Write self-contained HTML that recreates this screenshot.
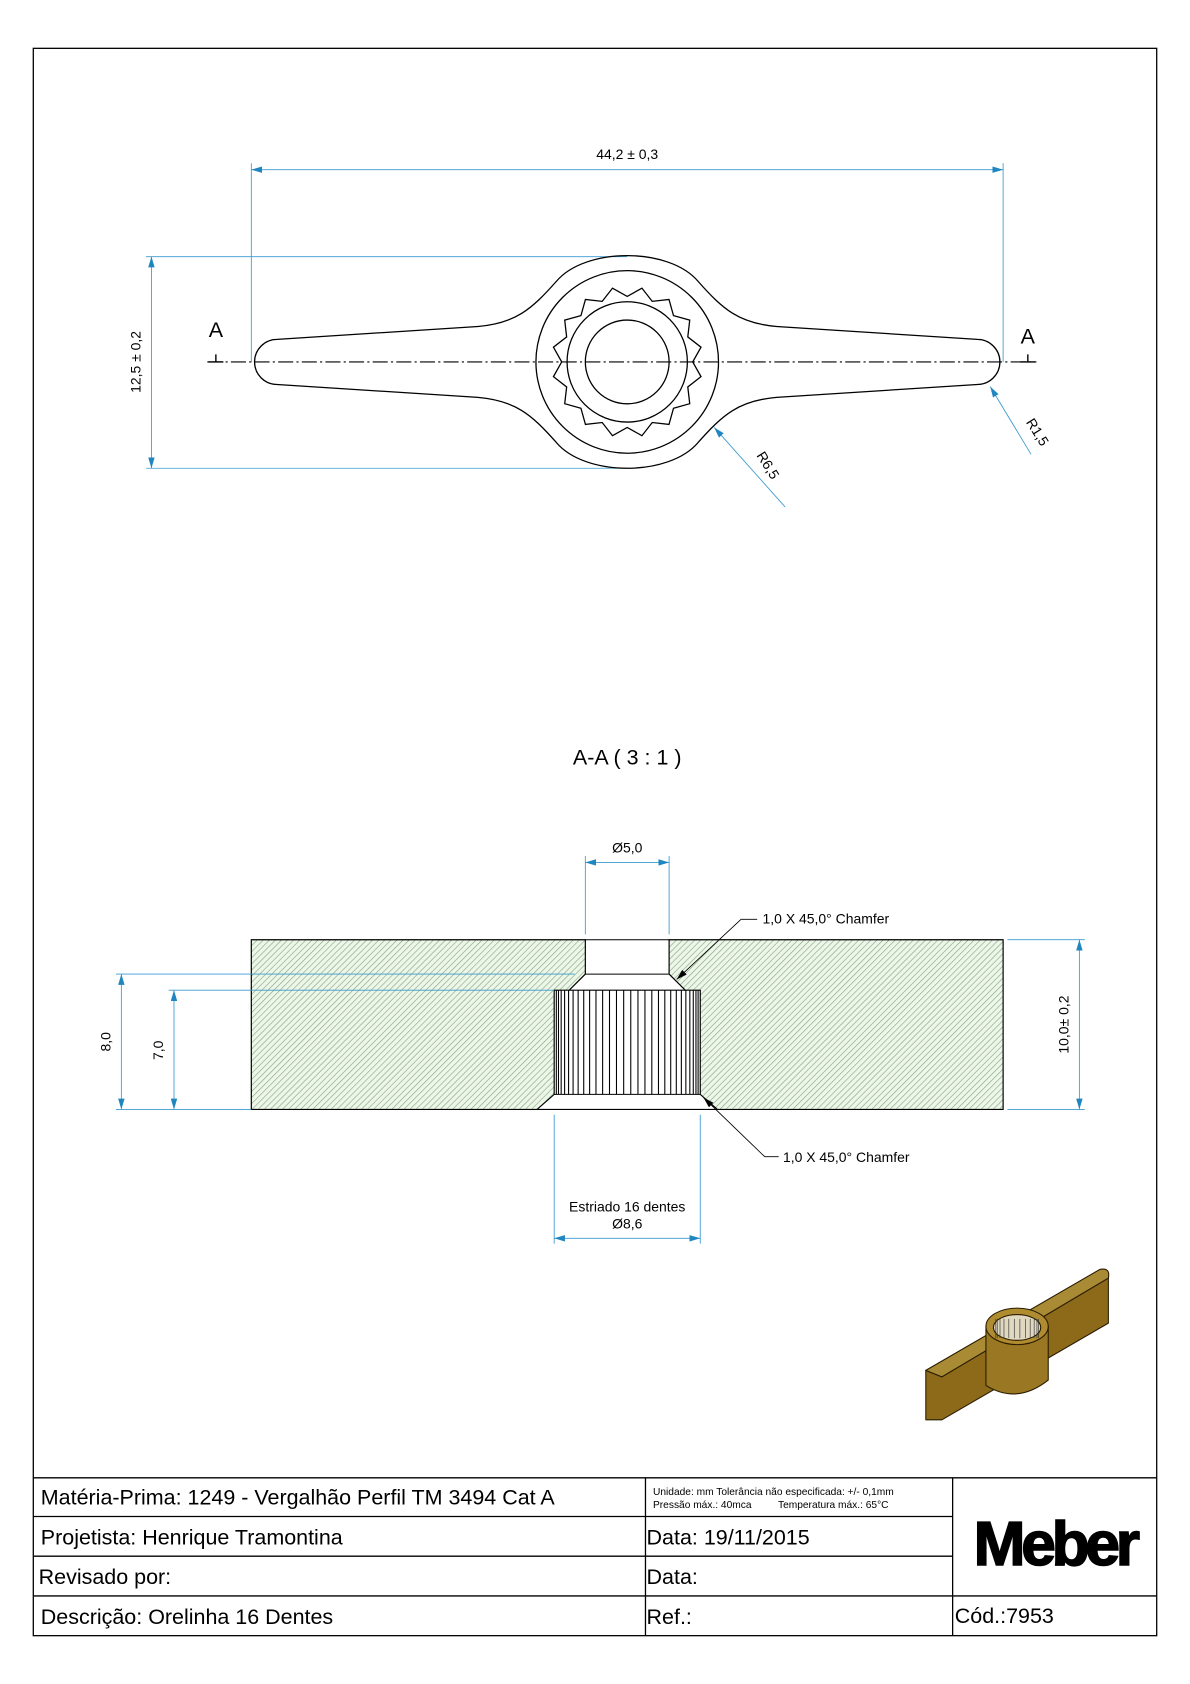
<!DOCTYPE html>
<html><head><meta charset="utf-8"><style>
html,body{margin:0;padding:0;background:#fff}
svg{display:block}
text{font-family:"Liberation Sans",sans-serif}
</style></head><body>
<svg id="s" width="1190" height="1684" viewBox="0 0 1108 1568" preserveAspectRatio="none" xmlns="http://www.w3.org/2000/svg">
<defs>
<pattern id="h" patternUnits="userSpaceOnUse" width="4" height="4" patternTransform="rotate(45)">
<rect width="4" height="4" fill="#eef5ea"/><line x1="0" y1="0" x2="0" y2="4" stroke="#7aa874" stroke-width="1.1"/>
</pattern>
<marker id="a" viewBox="0 0 10 6" refX="10" refY="3" markerWidth="10" markerHeight="6" orient="auto-start-reverse" markerUnits="userSpaceOnUse"><path d="M0,0L10,3L0,6z" fill="#1f86c0"/></marker>
<marker id="k" viewBox="0 0 10 6" refX="10" refY="3" markerWidth="10" markerHeight="6" orient="auto-start-reverse" markerUnits="userSpaceOnUse"><path d="M0,0L10,3L0,6z" fill="#000"/></marker>
</defs>
<rect x="31" y="45" width="1046" height="1478" fill="none" stroke="#000" stroke-width="1.2"/>

<g stroke="#3a9ad0" stroke-width="0.8" fill="none">
<line x1="234" y1="152" x2="234" y2="337"/><line x1="934" y1="152" x2="934" y2="337"/>
<line x1="234" y1="158" x2="934" y2="158" marker-start="url(#a)" marker-end="url(#a)"/>
<line x1="136" y1="239" x2="584" y2="239"/><line x1="136" y1="436" x2="584" y2="436"/>
<line x1="141" y1="239" x2="141" y2="436" marker-start="url(#a)" marker-end="url(#a)"/>
<line x1="731" y1="472" x2="665" y2="398" marker-end="url(#a)"/>
<line x1="960" y1="423" x2="922" y2="360" marker-end="url(#a)"/>
</g>
<text x="584" y="148" font-size="13" text-anchor="middle">44,2 ± 0,3</text>
<text transform="translate(131,337) rotate(-90)" font-size="13" text-anchor="middle">12,5 ± 0,2</text>
<text transform="translate(704,424) rotate(58)" font-size="13">R6,5</text>
<text transform="translate(955,393) rotate(58)" font-size="13">R1,5</text>

<g stroke="#000" stroke-width="1.2" fill="none">
<path d="M258,316 L445,304 C480,301 495,288 518,262 C545,230 623,230 650,262 C673,288 688,301 723,304 L910,316 A21,21 0 0 1 910,358 L723,370 C688,373 673,386 650,412 C623,444 545,444 518,412 C495,386 480,373 445,370 L258,358 A21,21 0 0 1 258,316 Z"/>
<circle cx="584" cy="337" r="85"/>
<circle cx="584" cy="337" r="56"/>
<circle cx="584" cy="337" r="39"/>
<path id="star" d=""/>
</g>
<line x1="193" y1="337" x2="965" y2="337" stroke="#000" stroke-width="1" stroke-dasharray="14,3,2,3"/>
<text x="201" y="314" font-size="20" text-anchor="middle">A</text>
<text x="957" y="320" font-size="20" text-anchor="middle">A</text>
<path d="M194,337h14M201,330v7M950,337h14M957,330v7" stroke="#000" stroke-width="1.3"/>

<text x="584" y="712" font-size="20" text-anchor="middle">A-A ( 3 : 1 )</text>

<path d="M234,875 H545 V907 L530,922 H516 V1019 L500,1033 H234 Z" fill="url(#h)" stroke="#000" stroke-width="1.1"/>
<path d="M623,875 H934 V1033 H668 L652,1019 V922 H638 L623,907 Z" fill="url(#h)" stroke="#000" stroke-width="1.1"/>
<g stroke="#000" stroke-width="1" fill="none">
<path d="M545,907H623M530,922H638M516,1019H652M500,1033H668M545,875H623"/>
<g id="vl"></g>
</g>
<g stroke="#3a9ad0" stroke-width="0.8" fill="none">
<line x1="545" y1="797" x2="545" y2="870"/><line x1="623" y1="797" x2="623" y2="870"/>
<line x1="545" y1="803" x2="623" y2="803" marker-start="url(#a)" marker-end="url(#a)"/>
<line x1="108" y1="907" x2="535" y2="907"/><line x1="157" y1="922" x2="516" y2="922"/>
<line x1="108" y1="1033" x2="234" y2="1033"/>
<line x1="113" y1="907" x2="113" y2="1033" marker-start="url(#a)" marker-end="url(#a)"/>
<line x1="162" y1="922" x2="162" y2="1033" marker-start="url(#a)" marker-end="url(#a)"/>
<line x1="938" y1="875" x2="1010" y2="875"/><line x1="938" y1="1033" x2="1010" y2="1033"/>
<line x1="1005" y1="875" x2="1005" y2="1033" marker-start="url(#a)" marker-end="url(#a)"/>
<line x1="516" y1="1038" x2="516" y2="1158"/><line x1="652" y1="1038" x2="652" y2="1158"/>
<line x1="516" y1="1153" x2="652" y2="1153" marker-start="url(#a)" marker-end="url(#a)"/>
</g>
<text x="584" y="794" font-size="13" text-anchor="middle">Ø5,0</text>
<text transform="translate(103,970) rotate(-90)" font-size="13" text-anchor="middle">8,0</text>
<text transform="translate(152,978) rotate(-90)" font-size="13" text-anchor="middle">7,0</text>
<text transform="translate(995,954) rotate(-90)" font-size="13" text-anchor="middle">10,0± 0,2</text>
<text x="584" y="1128" font-size="13" text-anchor="middle">Estriado 16 dentes</text>
<text x="584" y="1144" font-size="13" text-anchor="middle">Ø8,6</text>
<g stroke="#000" stroke-width="0.8" fill="none">
<path d="M705,856H690L630,912" marker-end="url(#k)"/>
<path d="M725,1077H712L655,1022" marker-end="url(#k)"/>
</g>
<text x="710" y="860" font-size="13">1,0 X 45,0° Chamfer</text>
<text x="729" y="1082" font-size="13">1,0 X 45,0° Chamfer</text>

<!-- 3D -->
<g stroke="#2a1c00" stroke-width="1" stroke-linejoin="round">
<path d="M862,1276 L877,1282 L1032,1190 L1032,1232 L877,1322 L862,1322 Z" fill="#8c6a1a"/>
<path d="M862,1276 L1024,1182 Q1034,1180 1032,1190 L877,1282 Z" fill="#a98a35"/>
<path d="M918,1235 V1290 Q947,1308 976,1285 V1235 Z" fill="#9a7722"/>
<ellipse cx="947" cy="1235" rx="29" ry="17" fill="#b08c30"/>
<ellipse cx="947" cy="1236" rx="22" ry="12" fill="#e0d8c0"/>
<g id="sp3" stroke="#333" stroke-width="0.6"></g>
</g>

<g stroke="#000" stroke-width="1.2" fill="none">
<line x1="31" y1="1376" x2="1077" y2="1376"/>
<line x1="31" y1="1412" x2="887" y2="1412"/>
<line x1="31" y1="1449" x2="887" y2="1449"/>
<line x1="31" y1="1486" x2="1077" y2="1486"/>
<line x1="601" y1="1376" x2="601" y2="1523"/>
<line x1="887" y1="1376" x2="887" y2="1523"/>
</g>
<g font-size="20">
<text x="38" y="1401">Matéria-Prima: <tspan>1249 - Vergalhão Perfil TM 3494 Cat A</tspan></text>
<text x="38" y="1438">Projetista: <tspan>Henrique Tramontina</tspan></text>
<text x="36" y="1475">Revisado por:</text>
<text x="38" y="1512">Descrição: <tspan>Orelinha 16 Dentes</tspan></text>
<text x="602" y="1438">Data: 19/11/2015</text>
<text x="602" y="1475">Data:</text>
<text x="602" y="1512">Ref.:</text>
<text x="889" y="1511">Cód.:7953</text>
</g>
<text x="608" y="1392" font-size="9.5">Unidade: mm Tolerância não especificada: +/- 0,1mm</text>
<text x="608" y="1404" font-size="9.5">Pressão máx.: 40mca <tspan dx="22">Temperatura máx.: 65°C</tspan></text>
<text x="982" y="1457" font-size="58" font-weight="bold" text-anchor="middle" letter-spacing="-4" stroke="#000" stroke-width="1.5">Meber</text>
</svg>
<script>
(function(){
var d="",cx=584,cy=337;
for(var i=0;i<32;i++){var r=i%2?70:61,t=i*Math.PI/16;d+=(i?"L":"M")+(cx+r*Math.cos(t)).toFixed(1)+","+(cy+r*Math.sin(t)).toFixed(1);}
document.getElementById("star").setAttribute("d",d+"Z");
var g=document.getElementById("vl"),ns="http://www.w3.org/2000/svg",s="";
for(var i=0;i<32;i++){var t=(i+0.5)*Math.PI/32,x=584+68*Math.cos(t);if(x>517&&x<651)s+="M"+x.toFixed(1)+",922V1019";}
var p=document.createElementNS(ns,"path");p.setAttribute("d",s);g.appendChild(p);
var g2=document.getElementById("sp3"),s2="";
for(var i=0;i<12;i++){var t=(i+0.5)*Math.PI/12,x=947+20*Math.cos(t);s2+="M"+x.toFixed(1)+",1228V1246";}
var p2=document.createElementNS(ns,"path");p2.setAttribute("d",s2);g2.appendChild(p2);
})();
</script>
</body></html>
